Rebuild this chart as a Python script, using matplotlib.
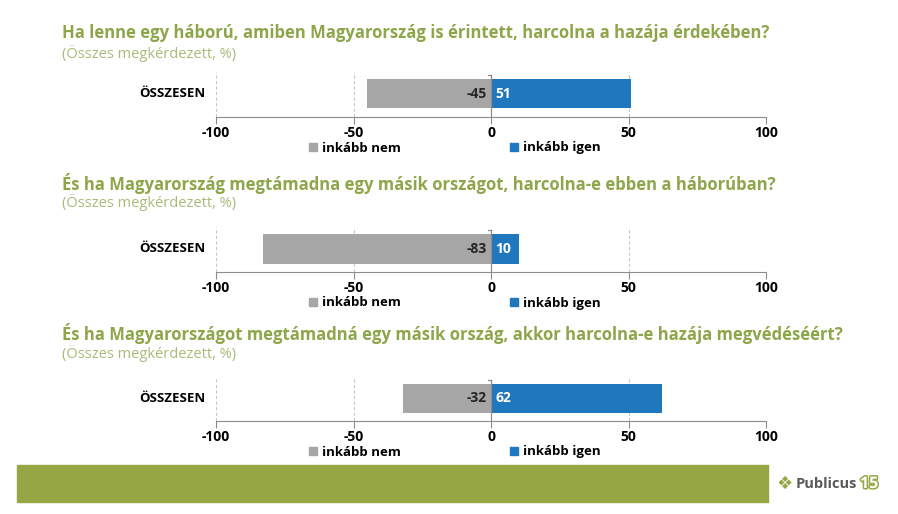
import matplotlib
matplotlib.use("Agg")
import matplotlib.pyplot as plt
import matplotlib.patheffects as pe
from matplotlib.patches import Rectangle, Patch

plt.rcParams['font.family'] = ['Open Sans', 'DejaVu Sans']

# Data
titles = [
    "Ha lenne egy háború, amiben Magyarország is érintett, harcolna a hazája érdekében?",
    "És ha Magyarország megtámadna egy másik országot, harcolna-e ebben a háborúban?",
    "És ha Magyarországot megtámadná egy másik ország, akkor harcolna-e hazája megvédéséért?",
]
subtitle = "(Összes megkérdezett, %)"
category = "ÖSSZESEN"
no_values = [-45, -83, -32]
yes_values = [51, 10, 62]
series_names = ["inkább nem", "inkább igen"]
xticks = [-100, -50, 0, 50, 100]

GREEN = "#8ea64a"
GREY = "#a6a6a6"
BLUE = "#1f77be"

W, H = 898, 514
fig = plt.figure(figsize=(W / 100, H / 100), dpi=100)

# pixel layout of each panel: (title y, axis bottom y, bar top, bar bottom, grid top)
panels = [(33, 117, 79, 108, 72), (183, 272, 234, 264, 227), (333, 421, 384, 413, 377)]
ax_left, ax_right = 216, 766

for i, (ty, axy, btop, bbot, gtop) in enumerate(panels):
    fig.text(62 / W, 1 - ty / H, titles[i], color=GREEN, fontsize=12.0,
             fontweight='bold', va='center', ha='left')
    fig.text(62 / W, 1 - (ty + 20) / H, subtitle, color="#a8bb78", fontsize=10.5,
             va='center', ha='left')

    ax = fig.add_axes([ax_left / W, 1 - axy / H, (ax_right - ax_left) / W, (axy - gtop) / H])
    bh = bbot - btop
    ax_h = axy - gtop
    ax.set_xlim(-100, 100)
    ylo = -0.5 - (axy - bbot) / bh
    yhi = 0.5 + (btop - gtop) / bh
    ax.set_ylim(ylo, yhi)

    ax.barh(0, no_values[i], height=1.0, color=GREY, zorder=3)
    ax.barh(0, yes_values[i], height=1.0, color=BLUE, zorder=3)
    ax.text(-1.5, 0, str(no_values[i]), ha='right', va='center',
            fontsize=10, fontweight='bold', color="#262626", zorder=4)
    ax.text(1.5, 0, str(yes_values[i]), ha='left', va='center',
            fontsize=10, fontweight='bold', color="white", zorder=4)

    for x in [-100, -50, 50, 100]:
        ax.axvline(x, color="#c8c8c8", lw=0.8, ls=(0, (3, 2)), zorder=1)
    ytop = 0.5 + (btop - gtop) / bh * 0.6
    ax.plot([0, 0], [ylo, ytop], color="#8c8c8c", lw=0.9, zorder=5)
    ax.plot([-1.2, 0], [ytop, ytop], color="#8c8c8c", lw=0.9, zorder=5)

    for s in ['top', 'right', 'left']:
        ax.spines[s].set_visible(False)
    ax.spines['bottom'].set_color("#8c8c8c")
    ax.set_xticks(xticks)
    ax.set_xticklabels([str(t) for t in xticks], fontsize=10, fontweight='bold')
    ax.tick_params(axis='x', direction='out', length=5, color="#8c8c8c", pad=1.5)
    ax.set_yticks([])
    ax.patch.set_alpha(0)

    ax.text(-0.02, 0, category, transform=ax.get_yaxis_transform(), ha='right', va='center',
            fontsize=9.5, fontweight='bold', color="black")

    handles = [Patch(color=GREY), Patch(color=BLUE)]
    ax.legend(handles, series_names, loc='center', bbox_to_anchor=(0.434, -31 / ax_h),
              ncol=2, frameon=False, handlelength=0.6, handleheight=0.6,
              handletextpad=0.35, columnspacing=8.3, borderpad=0,
              prop={'size': 9.5, 'weight': 'bold'})

# green footer band
fig.patches.append(Rectangle((17 / W, 1 - 502 / H), (768 - 17) / W, 37 / H,
                             transform=fig.transFigure, color="#97a645", zorder=0))

# logo
fig.text(776 / W, 1 - 484 / H, "❖", color="#97a645", fontsize=13, ha='left', va='center',
         family=['DejaVu Sans'])
fig.text(796 / W, 1 - 484 / H, "Publicus", color="#5a5a5a", fontsize=10.5, fontweight='bold',
         ha='left', va='center')
fig.text(860 / W, 1 - 484 / H, "15", color="white", fontsize=11.5, fontweight='bold',
         ha='left', va='center',
         path_effects=[pe.withStroke(linewidth=2.2, foreground="#97a645")])

fig.savefig("out.png", dpi=100)
